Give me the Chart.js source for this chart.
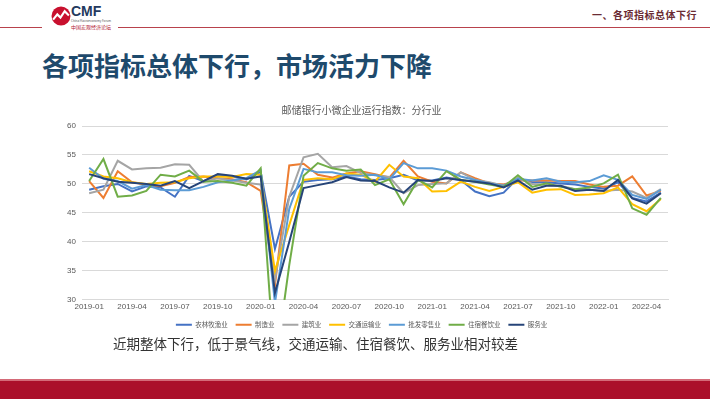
<!DOCTYPE html>
<html>
<head>
<meta charset="utf-8">
<script src="https://cdn.jsdelivr.net/npm/chart.js@4.4.0/dist/chart.umd.min.js"></script>
<style>
  html, body { margin:0; padding:0; background:#fff; }
  body { width:710px; height:399px; position:relative; overflow:hidden; font-family:"Noto Sans CJK SC","Noto Sans",sans-serif; }
  .hline1 { position:absolute; left:0; top:27px; width:42px; height:1px; background:#b8424c; }
  .hline2 { position:absolute; left:118px; top:27px; width:592px; height:1px; background:#b8424c; }
  .section { position:absolute; right:13px; top:7px; font-size:10px; font-weight:bold; color:#6b2c34; letter-spacing:0.5px; }
  .cmf { position:absolute; left:71px; top:3px; font-family:"Liberation Sans",Arial,sans-serif; font-weight:bold; font-size:14px; color:#243a5e; }
  .cmfsub1 { position:absolute; left:71px; top:19px; font-size:3px; color:#555; white-space:nowrap; }
  .cmfsub2 { position:absolute; left:71px; top:23px; font-size:5px; color:#b22234; white-space:nowrap; }
  .title { position:absolute; left:42px; top:46px; font-size:26px; font-weight:bold; color:#1e4a6c; white-space:nowrap; }
  .caption { position:absolute; left:113px; top:333px; font-size:13.5px; color:#333; white-space:nowrap; }
  .footer-line { position:absolute; left:0; top:379px; width:710px; height:2px; background:#d46a78; }
  .footer { position:absolute; left:0; top:381px; width:710px; height:18px; background:#ab0f2a; }
  #wrap { position:absolute; left:55px; top:98px; width:630px; height:240px; }
</style>
</head>
<body>
<div class="hline1"></div>
<div class="hline2"></div>
<svg style="position:absolute;left:51px;top:6px;width:20px;height:20px" viewBox="0 0 19 19">
  <circle cx="9.5" cy="9.5" r="9" fill="#c8102e"/>
  <polyline points="2,13 6,8 9,11 13,5 17,9" fill="none" stroke="#fff" stroke-width="2"/>
</svg>
<div class="cmf">CMF</div>
<div class="cmfsub1">China Macroeconomy Forum</div>
<div class="cmfsub2">中国宏观经济论坛</div>
<div class="section">一、各项指标总体下行</div>
<div class="title">各项指标总体下行，市场活力下降</div>
<div id="wrap"><canvas id="c" width="630" height="240"></canvas></div>
<div class="caption">近期整体下行，低于景气线，交通运输、住宿餐饮、服务业相对较差</div>
<div class="footer-line"></div>
<div class="footer"></div>
<script>
const months = [
 "2019-01","2019-02","2019-03","2019-04","2019-05","2019-06","2019-07","2019-08","2019-09","2019-10","2019-11","2019-12",
 "2020-01","2020-02","2020-03","2020-04","2020-05","2020-06","2020-07","2020-08","2020-09","2020-10","2020-11","2020-12",
 "2021-01","2021-02","2021-03","2021-04","2021-05","2021-06","2021-07","2021-08","2021-09","2021-10","2021-11","2021-12",
 "2022-01","2022-02","2022-03","2022-04","2022-05"];
const seriesNames = ["农林牧渔业","制造业","建筑业","交通运输业","批发零售业","住宿餐饮业","服务业"];
const agriculture = [49.0,49.6,50.0,48.7,49.6,49.4,47.8,51.4,50.5,51.5,51.3,50.8,52.1,38.8,47.8,50.4,50.7,50.8,51.3,50.8,50.7,51.0,51.6,50.6,50.6,51.1,50.7,48.7,47.9,48.5,51.0,50.3,50.3,50.1,49.9,49.5,49.2,50.3,47.6,47.0,48.5];
const manufacturing = [50.5,47.6,52.2,50.3,49.9,49.6,50.2,51.2,51.3,51.0,50.8,50.3,48.8,32.5,53.2,53.5,51.6,51.1,51.8,52.2,51.7,51.1,54.0,51.3,50.4,50.1,52.0,51.0,50.1,49.9,50.6,50.6,50.6,50.5,50.5,49.9,49.5,49.7,51.3,48.0,48.8];
const construction = [48.4,49.0,54.0,52.5,52.7,52.8,53.4,53.3,50.4,51.0,50.6,50.2,49.9,33.5,47.8,54.6,55.2,52.9,53.1,51.9,51.5,51.2,48.4,49.8,50.0,50.1,52.0,50.7,50.3,49.7,51.0,50.0,49.8,49.7,49.1,49.0,48.8,49.0,48.7,47.6,49.1];
const transport = [52.2,51.3,51.0,50.3,50.0,50.2,50.3,51.0,51.3,51.3,51.2,51.7,51.6,35.0,42.9,50.7,51.0,50.8,51.8,51.6,50.4,53.3,51.3,51.0,48.7,48.8,50.4,49.5,48.8,49.5,50.3,48.5,49.0,49.1,48.1,48.2,48.4,49.4,46.5,45.3,47.4];
const wholesale = [52.8,50.9,50.5,49.2,49.8,49.0,48.9,48.9,49.5,50.3,50.6,51.0,52.4,29.5,45.7,52.6,52.0,52.0,51.5,51.4,51.6,50.8,53.6,52.7,52.7,52.3,51.3,50.7,50.1,49.7,50.9,50.6,51.0,50.4,50.3,50.5,51.5,50.7,48.1,47.4,49.0];
const catering = [50.5,54.3,47.8,48.0,48.8,51.6,51.3,52.3,50.4,50.5,50.2,49.7,52.7,18.0,36.0,51.4,53.6,52.7,52.3,52.5,49.8,50.8,46.5,50.7,49.4,52.2,50.7,50.4,49.9,49.5,51.5,49.5,50.1,49.5,49.1,49.4,50.1,51.6,45.8,44.7,47.6];
const services = [51.7,51.0,50.4,50.2,50.0,49.7,50.5,49.3,50.5,51.7,51.4,50.9,51.3,31.2,40.0,49.3,49.8,50.3,51.2,50.6,50.5,49.4,48.5,50.7,50.5,51.0,50.7,50.4,50.1,49.4,50.6,49.0,49.7,49.7,48.8,49.0,48.8,50.7,47.5,46.6,48.4];
const yTicks = [30,35,40,45,50,55,60];
const colors = ["#4472C4","#ED7D31","#A5A5A5","#FFC000","#5B9BD5","#70AD47","#264478"];
const allSeries = [agriculture,manufacturing,construction,transport,wholesale,catering,services];

const datasets = allSeries.map((d,i) => ({
  label: seriesNames[i], data: d, borderColor: colors[i], backgroundColor: colors[i],
  borderWidth: 2, pointRadius: 0, tension: 0, fill: false, order: 6 - i
}));

new Chart(document.getElementById('c'), {
  type: 'line',
  data: { labels: months, datasets },
  options: {
    responsive: false, animation: false,
    layout: { padding: { left: 0, right: 17, top: 4, bottom: 0 } },
    plugins: {
      title: { display: true, text: '邮储银行小微企业运行指数：分行业', color: '#595959',
        font: { size: 10, family: '"Noto Sans CJK SC", sans-serif', weight: 'normal' }, padding: { top: 2, bottom: 10 } },
      legend: { position: 'bottom',
        labels: { sort: (a,b) => seriesNames.indexOf(a.text) - seriesNames.indexOf(b.text),
          usePointStyle: true, pointStyle: 'line', pointStyleWidth: 16, boxHeight: 2, padding: 8,
          color: '#595959', font: { size: 6.5, family: '"Noto Sans CJK SC", sans-serif' } } },
      tooltip: { enabled: false }
    },
    scales: {
      x: {
        offset: true,
        grid: { display: false, drawTicks: false, tickLength: 0 }, border: { display: true, color: '#d9d9d9' },
        ticks: { autoSkip: false, maxRotation: 0, padding: 2, color: '#595959', font: { size: 8 },
          callback: function(v, i) { return i % 3 === 0 ? months[i] : null; } }
      },
      y: {
        min: 30, max: 60,
        afterBuildTicks: (s) => { s.ticks = yTicks.map(v => ({ value: v })); },
        afterFit: (s) => { s.width = 27; },
        grid: { color: '#d9d9d9', drawTicks: false }, border: { display: false },
        ticks: { color: '#595959', font: { size: 8 }, padding: 6 }
      }
    }
  }
});
</script>
</body>
</html>
